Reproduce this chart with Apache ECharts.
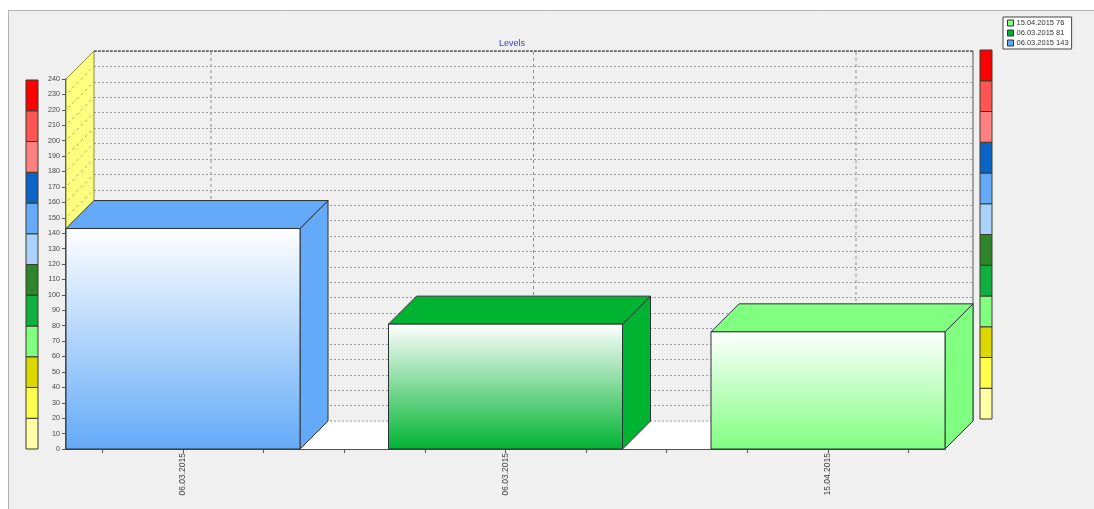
<!DOCTYPE html>
<html>
<head>
<meta charset="utf-8">
<title>Levels</title>
<script src="https://cdn.jsdelivr.net/npm/echarts@6/dist/echarts.min.js"></script>
<style>
  html, body { margin: 0; padding: 0; background: #ffffff; }
  #chart { width: 1094px; height: 509px; }
</style>
</head>
<body>
<div id="chart"></div>
<script>
// ---- data ----
const CATEGORIES = ['06.03.2015', '06.03.2015', '15.04.2015'];
const VALUES = [143, 81, 76];
const BAR_COLORS = ['#64aaf8', '#00b432', '#80ff80'];

// level scale: band boundaries and band colours (bottom to top)
const LEVEL_BOUNDS = [0, 20, 40, 60, 80, 100, 120, 140, 160, 180, 200, 220, 240];
const LEVEL_COLORS = ['#ffffa8', '#ffff50', '#dcd800', '#80ff80', '#10b040', '#2e842a',
                      '#aad2ff', '#64aaf8', '#0a64c8', '#ff8080', '#ff5555', '#ff0000'];

const Y_MIN = 0, Y_MAX = 240, Y_STEP = 10;

// ---- layout / style ----
const DEPTH = 28;             // pixel offset of the 3D depth (right and up)
const BAR_FRACTION = 0.7256;  // bar width as a fraction of the category pitch
const X_MIN = -BAR_FRACTION / 2;
const X_MAX = CATEGORIES.length - 1 + BAR_FRACTION / 2;
const FONT = 'Liberation Sans, Arial, sans-serif';

const SERIES_NAMES = CATEGORIES.map((c, i) => c + ' ' + VALUES[i]);

// small ticks every quarter of a category pitch along the floor edge
const X_TICKS = [];
for (let k = -1; k <= (CATEGORIES.length - 1) * 4 + 1; k++) X_TICKS.push(k / 4);
const X_LABEL_POS = CATEGORIES.map((c, i) => i);

const shift = (p) => [p[0] + DEPTH, p[1] - DEPTH];

// walls, floor and back-wall lines
function renderScene(params, api) {
  const bl = api.coord([X_MIN, Y_MIN]);
  const tl = api.coord([X_MIN, Y_MAX]);
  const br = api.coord([X_MAX, Y_MIN]);
  const tr = api.coord([X_MAX, Y_MAX]);
  const children = [];

  // floor
  children.push({ type: 'polygon', shape: { points: [bl, br, shift(br), shift(bl)] },
    style: { fill: '#ffffff', stroke: null } });
  // back edge of the floor
  children.push({ type: 'line', shape: { x1: shift(bl)[0], y1: shift(bl)[1], x2: shift(br)[0], y2: shift(br)[1] },
    style: { stroke: '#9a9a9a', lineWidth: 1, lineDash: [2, 2] } });

  // left side wall
  children.push({ type: 'polygon', shape: { points: [bl, tl, shift(tl), shift(bl)] },
    style: { fill: '#ffff80', stroke: '#8a8a3a', lineWidth: 1 } });
  // grid dashes across the side wall
  for (let v = Y_MIN + Y_STEP; v < Y_MAX; v += Y_STEP) {
    const p = api.coord([X_MIN, v]);
    const q = shift(p);
    children.push({ type: 'line', shape: { x1: p[0] + 2, y1: p[1] - 2, x2: q[0] - 1, y2: q[1] + 1 },
      style: { stroke: '#b0b070', lineWidth: 1, lineDash: [3, 3] } });
  }

  // vertical lines on the back wall at each category
  CATEGORIES.forEach((c, i) => {
    const a = shift(api.coord([i, Y_MIN]));
    const b = shift(api.coord([i, Y_MAX]));
    children.push({ type: 'line', shape: { x1: a[0], y1: a[1], x2: b[0], y2: b[1] },
      style: { stroke: '#8c8c8c', lineWidth: 1, lineDash: [3, 3] } });
  });

  // back wall top and right borders
  const stl = shift(tl), str = shift(tr), sbr = shift(br);
  children.push({ type: 'line', shape: { x1: stl[0], y1: stl[1], x2: str[0], y2: str[1] },
    style: { stroke: '#222', lineWidth: 1, lineDash: [3, 1] } });
  children.push({ type: 'line', shape: { x1: str[0], y1: str[1], x2: sbr[0], y2: sbr[1] },
    style: { stroke: '#555', lineWidth: 1 } });

  return { type: 'group', children: children };
}

// one 3D bar: right side, top and gradient front
function makeBarRenderer(color) {
  return function (params, api) {
    const i = api.value(0), v = api.value(1);
    const p0 = api.coord([i - BAR_FRACTION / 2, Y_MIN]);
    const p1 = api.coord([i + BAR_FRACTION / 2, v]);
    const x0 = p0[0], yb = p0[1], x1 = p1[0], yt = p1[1];
    const edge = '#2a3338';
    return {
      type: 'group',
      children: [
        { type: 'polygon', shape: { points: [[x1, yb], [x1, yt], shift([x1, yt]), shift([x1, yb])] },
          style: { fill: color, stroke: edge, lineWidth: 1 } },
        { type: 'polygon', shape: { points: [[x0, yt], [x1, yt], shift([x1, yt]), shift([x0, yt])] },
          style: { fill: color, stroke: edge, lineWidth: 1 } },
        { type: 'rect', shape: { x: x0, y: yt, width: x1 - x0, height: yb - yt },
          style: {
            fill: new echarts.graphic.LinearGradient(0, 0, 0, 1, [
              { offset: 0, color: '#ffffff' }, { offset: 1, color: color }]),
            stroke: edge, lineWidth: 1 } }
      ]
    };
  };
}

// colour band of the level scale
function renderBand(params, api) {
  const lo = api.value(0), hi = api.value(1);
  const a = api.coord([0, hi]);
  const b = api.coord([1, lo]);
  return { type: 'rect', shape: { x: a[0], y: a[1], width: b[0] - a[0], height: b[1] - a[1] },
    style: { fill: LEVEL_COLORS[params.dataIndex], stroke: '#3a3a2a', lineWidth: 1 } };
}
const BAND_DATA = LEVEL_COLORS.map((c, k) => [LEVEL_BOUNDS[k], LEVEL_BOUNDS[k + 1]]);

const hiddenAxis = (gridIndex, min, max) => ({
  type: 'value', gridIndex: gridIndex, min: min, max: max, show: false
});

const chart = echarts.init(document.getElementById('chart'), null, { renderer: 'canvas' });

chart.setOption({
  backgroundColor: '#ffffff',
  animation: false,
  textStyle: { fontFamily: FONT },
  graphic: [{
    type: 'rect', z: -100, silent: true,
    shape: { x: 8.5, y: 10.5, width: 1200, height: 600 },
    style: { fill: '#f0f0f0', stroke: '#b4b4b4', lineWidth: 1 }
  }],
  title: {
    text: 'Levels', left: 494, top: 34,
    textStyle: { fontSize: 9, fontWeight: 'normal', color: '#4040c8', fontFamily: FONT }
  },
  legend: {
    data: SERIES_NAMES.slice().reverse(),
    orient: 'vertical', left: 1003, top: 17,
    padding: [2, 3, 2, 4], itemGap: 2,
    itemWidth: 6, itemHeight: 6, icon: 'rect',
    itemStyle: { borderColor: '#333', borderWidth: 1 },
    backgroundColor: '#ffffff', borderColor: '#444', borderWidth: 1,
    textStyle: { fontSize: 7.5, color: '#333', fontFamily: FONT, padding: [0, 0, 0, -2] }
  },
  grid: [
    { left: 66, top: 79, width: 879, height: 370 },              // front plane
    { left: 66 + DEPTH, top: 79 - DEPTH, width: 879, height: 370 }, // back wall
    { left: 26, top: 80, width: 12, height: 369 },                 // left level scale
    { left: 980, top: 50, width: 12, height: 369 }                 // right level scale
  ],
  xAxis: [
    {
      type: 'value', gridIndex: 0, min: X_MIN, max: X_MAX,
      splitLine: { show: false },
      axisLine: { show: true, onZero: false, lineStyle: { color: '#1a1a1a', width: 1.5 } },
      axisTick: { show: true, customValues: X_TICKS, length: 4, lineStyle: { color: '#555' } },
      axisLabel: {
        customValues: X_LABEL_POS, rotate: 90, margin: 4,
        fontSize: 8.5, color: '#444', fontFamily: FONT,
        formatter: (v) => CATEGORIES[Math.round(v)]
      }
    },
    hiddenAxis(1, X_MIN, X_MAX),
    hiddenAxis(2, 0, 1),
    hiddenAxis(3, 0, 1)
  ],
  yAxis: [
    {
      type: 'value', gridIndex: 0, min: Y_MIN, max: Y_MAX, interval: Y_STEP,
      splitLine: { show: false },
      axisLine: { show: true, onZero: false, lineStyle: { color: '#111', width: 1.5 } },
      axisTick: { show: true, length: 4, lineStyle: { color: '#555' } },
      axisLabel: { fontSize: 7.2, color: '#444', margin: 6, fontFamily: FONT }
    },
    {
      type: 'value', gridIndex: 1, min: Y_MIN, max: Y_MAX, interval: Y_STEP,
      axisLine: { show: false }, axisTick: { show: false }, axisLabel: { show: false },
      splitLine: { show: true, lineStyle: { color: '#9a9a9a', width: 1, type: [2, 2] } }
    },
    hiddenAxis(2, Y_MIN, Y_MAX),
    hiddenAxis(3, Y_MIN, Y_MAX)
  ],
  series: [
    {
      type: 'custom', name: 'scene', xAxisIndex: 0, yAxisIndex: 0, silent: true,
      renderItem: renderScene, data: [[0, 0]], z: 1
    }
  ].concat(VALUES.map((v, i) => ({
    type: 'custom', name: SERIES_NAMES[i], xAxisIndex: 0, yAxisIndex: 0,
    itemStyle: { color: BAR_COLORS[i] },
    renderItem: makeBarRenderer(BAR_COLORS[i]),
    data: [[i, v]], z: 3
  }))).concat([
    { type: 'custom', name: 'scale-left', xAxisIndex: 2, yAxisIndex: 2, silent: true,
      renderItem: renderBand, data: BAND_DATA },
    { type: 'custom', name: 'scale-right', xAxisIndex: 3, yAxisIndex: 3, silent: true,
      renderItem: renderBand, data: BAND_DATA }
  ])
});
</script>
</body>
</html>
